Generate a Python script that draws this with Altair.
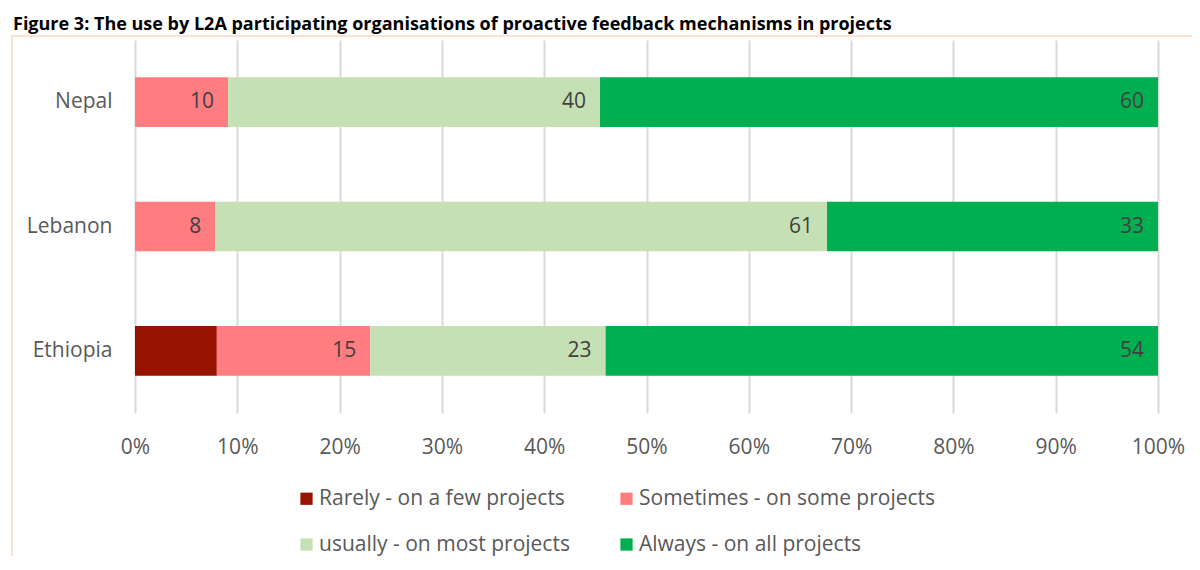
import altair as alt
import pandas as pd

countries = ["Nepal", "Lebanon", "Ethiopia"]
categories = [
    "Rarely - on a few projects",
    "Sometimes - on some projects",
    "usually - on most projects",
    "Always - on all projects",
]
rarely = [0, 0, 8]
sometimes = [10, 8, 15]
usually = [40, 61, 23]
always = [60, 33, 54]
show_label = [False, True, True, True]
colors = ["#971300", "#FF7C80", "#C5E0B4", "#00B050"]
x_ticks = [0, 0.1, 0.2, 0.3, 0.4, 0.5, 0.6, 0.7, 0.8, 0.9, 1.0]

series = [rarely, sometimes, usually, always]
rows = []
for ci, (cat, vals) in enumerate(zip(categories, series)):
    for country, v in zip(countries, vals):
        if v > 0:
            rows.append({
                "country": country,
                "category": cat,
                "order": ci,
                "value": v,
                "label": str(v) if show_label[ci] else "",
            })
df = pd.DataFrame(rows)

FONT = "Open Sans"
FS = 21

base = alt.Chart(df).transform_stack(
    stack="value",
    groupby=["country"],
    sort=[alt.SortField("order", order="ascending")],
    as_=["x0", "x1"],
    offset="normalize",
)

y_enc = alt.Y(
    "country:N",
    sort=countries,
    title=None,
    scale=alt.Scale(paddingInner=0.6, paddingOuter=0.3),
    axis=alt.Axis(
        labelFontSize=FS, labelColor="#595959", labelFont=FONT,
        domain=False, ticks=False, grid=False, labelPadding=23,
    ),
)

bars = base.mark_bar().encode(
    x=alt.X(
        "x0:Q",
        scale=alt.Scale(domain=[0, 1], nice=False, zero=True),
        title=None,
        axis=alt.Axis(
            values=x_ticks, format=".0%", labelFontSize=FS, labelColor="#595959",
            labelFont=FONT, domain=False, ticks=False, grid=True, labelFlush=False,
            gridColor="#D9D9D9", gridWidth=2, labelPadding=23,
        ),
    ),
    x2="x1:Q",
    y=y_enc,
    color=alt.Color(
        "category:N",
        scale=alt.Scale(domain=categories, range=colors),
        title=None,
        legend=alt.Legend(
            orient="none", legendX=161, legendY=448, columns=2, direction="horizontal",
            symbolType="square", symbolSize=150, symbolStrokeWidth=0,
            labelFontSize=FS, labelColor="#595959", labelFont=FONT,
            columnPadding=46, rowPadding=24, labelOffset=2,
            labelLimit=400,
        ),
    ),
    order=alt.Order("order:Q"),
)

labels = base.transform_filter("datum.label != ''").mark_text(
    align="right", baseline="middle", dx=-14, fontSize=FS, color="#404040", font=FONT,
).encode(
    x="x1:Q",
    y=alt.Y("country:N", sort=countries),
    text="label:N",
)

frame = alt.Chart(df).mark_rect(
    filled=False, stroke="#FBE0CF", strokeWidth=1.5,
).encode(
    x=alt.value(-123), x2=alt.value(1100),
    y=alt.value(-4), y2=alt.value(600),
)

chart = alt.layer(frame, bars, labels).properties(
    width=1023,
    height=373,
    autosize=alt.AutoSizeParams(type="none"),
    padding={"left": 127, "top": 32, "right": 34, "bottom": 143},
    title=alt.TitleParams(
        "Figure 3: The use by L2A participating organisations of proactive feedback mechanisms in projects",
        anchor="start", frame="group", dx=-122, offset=1, fontSize=18, font=FONT,
        fontWeight="bold", color="#000000",
    ),
).configure_view(stroke=None)

chart.save("out.html", embed_options={"renderer": "svg", "actions": False})
